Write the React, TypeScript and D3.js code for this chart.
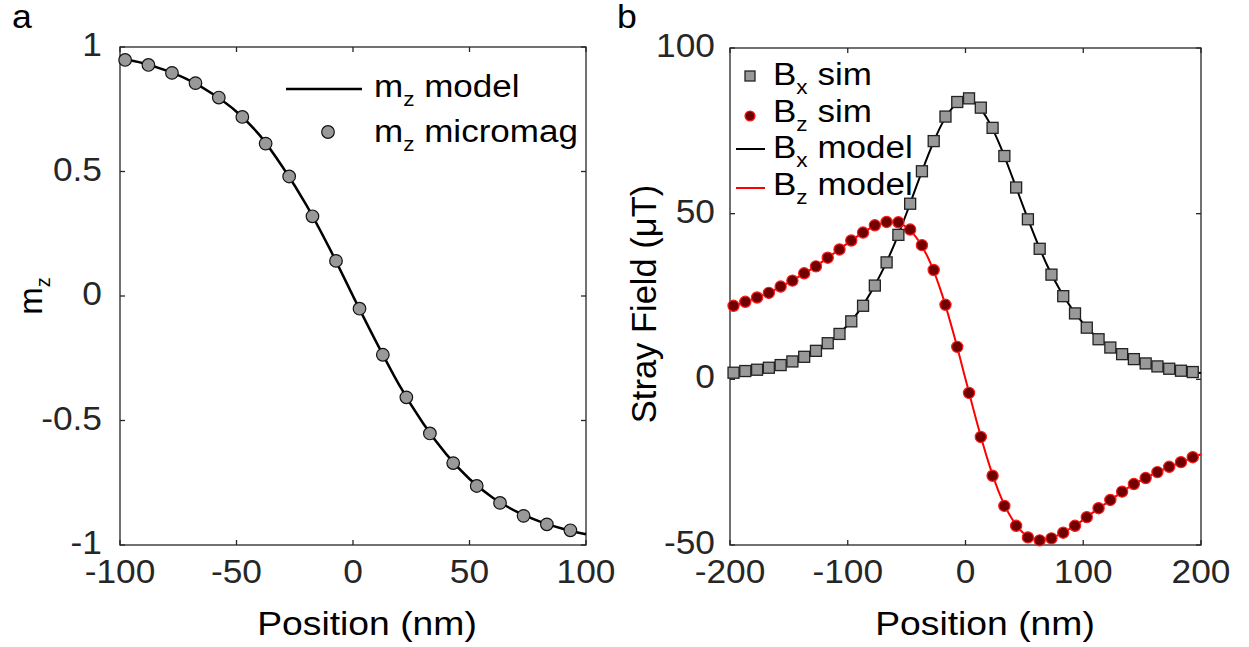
import React from "react";
import * as d3 from "d3";

// ---- Panel a: out-of-plane magnetisation across the domain wall ----
const mzModelX = [-100, -90, -80, -70, -60, -50, -40, -30, -20, -10, 0, 10, 20, 30, 40, 50, 60, 70, 80, 90, 100];
const mzModelY = [0.955, 0.935, 0.905, 0.865, 0.81, 0.74, 0.645, 0.515, 0.365, 0.19, 0.0, -0.185, -0.36, -0.51, -0.635, -0.735, -0.81, -0.865, -0.905, -0.935, -0.957];
const mzMicroX = [-97.8, -87.8, -77.7, -67.6, -57.6, -47.5, -37.5, -27.4, -17.4, -7.3, 2.8, 12.8, 22.9, 33.0, 43.0, 53.1, 63.1, 73.2, 83.2, 93.3];
const mzMicroY = [0.948, 0.928, 0.896, 0.855, 0.797, 0.719, 0.612, 0.48, 0.32, 0.141, -0.051, -0.236, -0.407, -0.552, -0.671, -0.763, -0.831, -0.883, -0.917, -0.941];
const aXTicks = [-100, -50, 0, 50, 100];
const aXTickLabels = ["-100", "-50", "0", "50", "100"];
const aYTicks = [-1, -0.5, 0, 0.5, 1];
const aYTickLabels = ["-1", "-0.5", "0", "0.5", "1"];

// ---- Panel b: stray field components above the wall ----
const simX = [-197, -187, -177, -167, -157, -147, -137, -127, -117, -107, -97, -87, -77, -67, -57, -47, -37, -27, -17, -7, 3, 13, 23, 33, 43, 53, 63, 73, 83, 93, 103, 113, 123, 133, 143, 153, 163, 173, 183, 193];
const bxSim = [2.0, 2.5, 2.9, 3.5, 4.3, 5.4, 6.8, 8.6, 10.9, 13.7, 17.5, 22.2, 28.3, 35.3, 43.6, 53.0, 62.8, 71.9, 79.3, 83.7, 84.8, 82.0, 75.9, 67.4, 57.9, 48.3, 39.4, 31.6, 25.1, 19.9, 15.6, 12.1, 9.6, 7.6, 6.1, 4.8, 3.9, 3.2, 2.6, 2.2];
const bzSim = [22.2, 23.4, 24.7, 26.1, 28.0, 29.8, 32.0, 34.1, 36.7, 39.2, 41.9, 44.3, 46.5, 47.5, 47.4, 45.2, 40.5, 33.0, 22.5, 9.8, -4.1, -17.4, -29.1, -38.2, -44.2, -47.7, -48.6, -48.0, -46.3, -44.2, -41.6, -38.9, -36.4, -33.9, -31.6, -29.8, -28.0, -26.4, -25.0, -23.5];
const modelX = [-200, -190, -180, -170, -160, -150, -140, -130, -120, -110, -100, -90, -80, -70, -60, -50, -40, -30, -20, -10, 0, 10, 20, 30, 40, 50, 60, 70, 80, 90, 100, 110, 120, 130, 140, 150, 160, 170, 180, 190, 200];
const bxModel = [1.9, 2.35, 2.8, 3.3, 4.1, 5.1, 6.4, 8.1, 10.2, 12.9, 16.4, 20.8, 26.5, 33.2, 41.1, 50.2, 59.9, 69.2, 77.1, 82.4, 84.6, 82.8, 77.7, 70.0, 60.8, 51.2, 42.1, 33.9, 27.1, 21.5, 16.9, 13.2, 10.4, 8.2, 6.6, 5.2, 4.2, 3.4, 2.8, 2.3, 1.9];
const bzModel = [21.8, 23.0, 24.3, 25.7, 27.4, 29.3, 31.3, 33.5, 35.9, 38.5, 41.1, 43.6, 45.8, 47.2, 47.4, 45.9, 41.9, 35.3, 25.7, 13.6, 0.1, -13.4, -25.6, -35.5, -42.4, -46.7, -48.3, -48.2, -46.8, -44.8, -42.4, -39.7, -37.2, -34.7, -32.3, -30.3, -28.5, -26.9, -25.4, -24.0, -22.6];
const bXTicks = [-200, -100, 0, 100, 200];
const bXTickLabels = ["-200", "-100", "0", "100", "200"];
const bYTicks = [-50, 0, 50, 100];
const bYTickLabels = ["-50", "0", "50", "100"];

const FONT = "'Liberation Sans', Arial, Helvetica, sans-serif";
const AXIS = "#262626";
const TICK_FS = 33;
const TICK_LEN = 5;
const TICK_SX = 1.07; // slightly wide glyphs for tick labels
const LABEL_SX = 1.13; // wide glyphs for axis labels and legends

type Box = { left: number; right: number; top: number; bottom: number };

// Text drawn at (x, y) with a horizontal glyph stretch
function WText({ x, y, sx, children, ...rest }: any) {
  return (
    <text transform={`translate(${x},${y}) scale(${sx},1)`} {...rest}>{children}</text>
  );
}

function Frame({ box, x, y, xt, xl, yt, yl, yGap }: {
  box: Box;
  x: d3.ScaleLinear<number, number>;
  y: d3.ScaleLinear<number, number>;
  xt: number[]; xl: string[]; yt: number[]; yl: string[]; yGap: number;
}) {
  return (
    <g>
      <rect x={box.left} y={box.top} width={box.right - box.left} height={box.bottom - box.top}
        fill="none" stroke={AXIS} strokeWidth={1.3} />
      {xt.map((t, i) => (
        <g key={"x" + i}>
          <line x1={x(t)} x2={x(t)} y1={box.bottom} y2={box.bottom - TICK_LEN} stroke={AXIS} strokeWidth={1.3} />
          <line x1={x(t)} x2={x(t)} y1={box.top} y2={box.top + TICK_LEN} stroke={AXIS} strokeWidth={1.3} />
          <WText x={x(t)} y={box.bottom + 38} sx={TICK_SX} textAnchor="middle" fontSize={TICK_FS} fill={AXIS}>{xl[i]}</WText>
        </g>
      ))}
      {yt.map((t, i) => (
        <g key={"y" + i}>
          <line x1={box.left} x2={box.left + TICK_LEN} y1={y(t)} y2={y(t)} stroke={AXIS} strokeWidth={1.3} />
          <line x1={box.right} x2={box.right - TICK_LEN} y1={y(t)} y2={y(t)} stroke={AXIS} strokeWidth={1.3} />
          <WText x={box.left - yGap} y={y(t) + 9} sx={TICK_SX} textAnchor="end" fontSize={TICK_FS} fill={AXIS}>{yl[i]}</WText>
        </g>
      ))}
    </g>
  );
}

export default function App() {
  // panel a
  const boxA: Box = { left: 120, right: 586, top: 47, bottom: 545 };
  const xA = d3.scaleLinear().domain([-100, 100]).range([boxA.left, boxA.right]);
  const yA = d3.scaleLinear().domain([-1, 1]).range([boxA.bottom, boxA.top]);
  const lineA = d3.line<number>().x((_, i) => xA(mzModelX[i])).y((d) => yA(d)).curve(d3.curveMonotoneX);

  // panel b
  const boxB: Box = { left: 730, right: 1201, top: 48, bottom: 545 };
  const xB = d3.scaleLinear().domain([-200, 200]).range([boxB.left, boxB.right]);
  const yB = d3.scaleLinear().domain([-50, 100]).range([boxB.bottom, boxB.top]);
  const lineB = d3.line<number>().x((_, i) => xB(modelX[i])).y((d) => yB(d)).curve(d3.curveMonotoneX);

  const sq = 11;
  const sub = { fontSize: 20, dy: 9 };

  return (
    <svg width={1249} height={647} style={{ position: "absolute", left: 0, top: 0, background: "#fff" }}
      fontFamily={FONT}>
      <rect width={1249} height={647} fill="#fff" />

      {/* panel labels */}
      <WText x={12} y={28} sx={1.08} fontSize={33} fill="#000">a</WText>
      <WText x={617} y={28} sx={1.08} fontSize={33} fill="#000">b</WText>

      {/* ----- panel a ----- */}
      <Frame box={boxA} x={xA} y={yA} xt={aXTicks} xl={aXTickLabels} yt={aYTicks} yl={aYTickLabels} yGap={18} />
      <path d={lineA(mzModelY) || ""} fill="none" stroke="#000" strokeWidth={2.5} />
      {mzMicroX.map((d, i) => (
        <circle key={i} cx={xA(d)} cy={yA(mzMicroY[i])} r={6.3} fill="#999999" stroke="#111" strokeWidth={1.2} />
      ))}
      <WText x={367} y={635} sx={LABEL_SX} textAnchor="middle" fontSize={33} fill="#000">Position (nm)</WText>
      <text transform="translate(42,296) rotate(-90)" textAnchor="middle" fontSize={33} fill="#000">
        m<tspan fontSize={20} dy={8}>z</tspan>
      </text>
      {/* legend a */}
      <line x1={286} x2={362} y1={89} y2={89} stroke="#000" strokeWidth={2.5} />
      <WText x={374} y={97} sx={LABEL_SX} fontSize={31} fill="#000">
        m<tspan {...sub}>z</tspan><tspan dy={-sub.dy}> model</tspan>
      </WText>
      <circle cx={328} cy={132} r={6.3} fill="#999999" stroke="#111" strokeWidth={1.2} />
      <WText x={374} y={142} sx={LABEL_SX} fontSize={31} fill="#000">
        m<tspan {...sub}>z</tspan><tspan dy={-sub.dy}> micromag</tspan>
      </WText>

      {/* ----- panel b ----- */}
      <Frame box={boxB} x={xB} y={yB} xt={bXTicks} xl={bXTickLabels} yt={bYTicks} yl={bYTickLabels} yGap={15} />
      <path d={lineB(bzModel) || ""} fill="none" stroke="#ff0000" strokeWidth={2} />
      <path d={lineB(bxModel) || ""} fill="none" stroke="#000" strokeWidth={2} />
      {simX.map((d, i) => (
        <circle key={"z" + i} cx={xB(d)} cy={yB(bzSim[i])} r={5.6} fill="#700000" stroke="#ff1a1a" strokeWidth={1.2} />
      ))}
      {simX.map((d, i) => (
        <rect key={"x" + i} x={xB(d) - sq / 2} y={yB(bxSim[i]) - sq / 2} width={sq} height={sq}
          fill="#999999" stroke="#222" strokeWidth={1.3} />
      ))}
      <WText x={985} y={635} sx={LABEL_SX} textAnchor="middle" fontSize={33} fill="#000">Position (nm)</WText>
      <text transform="translate(656,304) rotate(-90)" textAnchor="middle" fontSize={34.5} fill="#000">Stray Field (μT)</text>
      {/* legend b */}
      <rect x={750 - 5} y={76 - 5} width={10} height={10} fill="#999999" stroke="#222" strokeWidth={1.3} />
      <WText x={773} y={85} sx={LABEL_SX} fontSize={31} fill="#000">
        B<tspan {...sub}>x</tspan><tspan dy={-sub.dy}> sim</tspan>
      </WText>
      <circle cx={750} cy={116} r={5} fill="#700000" stroke="#ff1a1a" strokeWidth={1.2} />
      <WText x={773} y={122} sx={LABEL_SX} fontSize={31} fill="#000">
        B<tspan {...sub}>z</tspan><tspan dy={-sub.dy}> sim</tspan>
      </WText>
      <line x1={736} x2={765} y1={149} y2={149} stroke="#000" strokeWidth={2} />
      <WText x={773} y={158} sx={LABEL_SX} fontSize={31} fill="#000">
        B<tspan {...sub}>x</tspan><tspan dy={-sub.dy}> model</tspan>
      </WText>
      <line x1={736} x2={765} y1={188} y2={188} stroke="#ff0000" strokeWidth={2} />
      <WText x={773} y={195} sx={LABEL_SX} fontSize={31} fill="#000">
        B<tspan {...sub}>z</tspan><tspan dy={-sub.dy}> model</tspan>
      </WText>
    </svg>
  );
}
